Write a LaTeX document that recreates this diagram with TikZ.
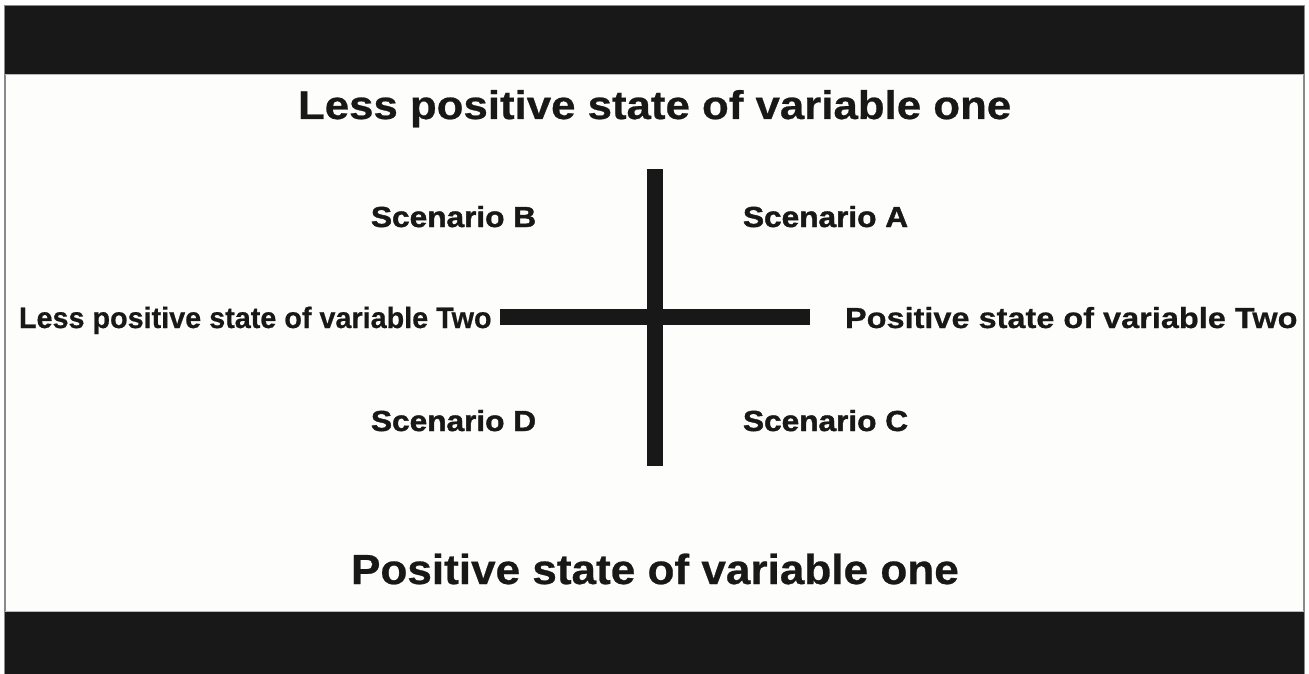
\documentclass[tikz,border=0pt]{standalone}
\usepackage{fontspec}
\setmainfont{Liberation Sans}
\newfontfamily\heavyfont[FakeBold=1.4]{Liberation Sans Bold}
\newfontfamily\midfont[FakeBold=0.6]{Liberation Sans Bold}
\definecolor{ink}{HTML}{181818}
\definecolor{paper}{HTML}{FDFDFB}
\definecolor{rim}{HTML}{8A8A8A}
\begin{document}
\begin{tikzpicture}[x=1pt,y=-1pt,
  lbl/.style={inner sep=0pt,outer sep=0pt,anchor=base west,text=ink,font=\midfont},
  scen/.style={lbl,font=\heavyfont},
  bar/.style={draw=ink,line width=16pt,line cap=butt}]
\useasboundingbox (0,0) rectangle (1309,674);
\fill[white] (0,0) rectangle (1309,674);
% frame and black bands
\filldraw[fill=paper,draw=rim,line width=1.5pt] (5,6) rectangle (1304,674);
\fill[ink] (5,6) rectangle (1304,74);
\fill[ink] (5,612) rectangle (1304,674);
\draw[rim!60,line width=0.8pt] (5,74.5) -- (1304,74.5);
\draw[rim!60,line width=0.8pt] (5,611.5) -- (1304,611.5);
% cross
\coordinate (hl) at (500,317);
\coordinate (hr) at (810,317);
\coordinate (vt) at (655,169);
\coordinate (vb) at (655,466);
\draw[bar] (hl) -- (hr);
\draw[bar] (vt) -- (vb);
% titles
\node[lbl] (top) at (298,119) {\fontsize{40}{44}\selectfont\scalebox{1.095}[1]{Less positive state of variable one}};
\node[lbl] (bot) at (351,584) {\fontsize{42}{46}\selectfont\scalebox{1.05}[1]{Positive state of variable one}};
% side labels
\node[lbl] (left) at (19,328) {\fontsize{29.5}{32}\selectfont\scalebox{0.975}[1]{Less positive state of variable Two}};
\node[lbl] (right) at (845,328) {\fontsize{29}{31}\selectfont\scalebox{1.12}[1]{Positive state of variable Two}};
% scenarios
\node[scen] (B) at (371,227) {\fontsize{29}{32}\selectfont\scalebox{1.09}[1]{Scenario B}};
\node[scen] (A) at (743,227) {\fontsize{29}{32}\selectfont\scalebox{1.09}[1]{Scenario A}};
\node[scen] (D) at (371,431) {\fontsize{29}{32}\selectfont\scalebox{1.09}[1]{Scenario D}};
\node[scen] (C) at (743,431) {\fontsize{29}{32}\selectfont\scalebox{1.09}[1]{Scenario C}};
\end{tikzpicture}
\end{document}
